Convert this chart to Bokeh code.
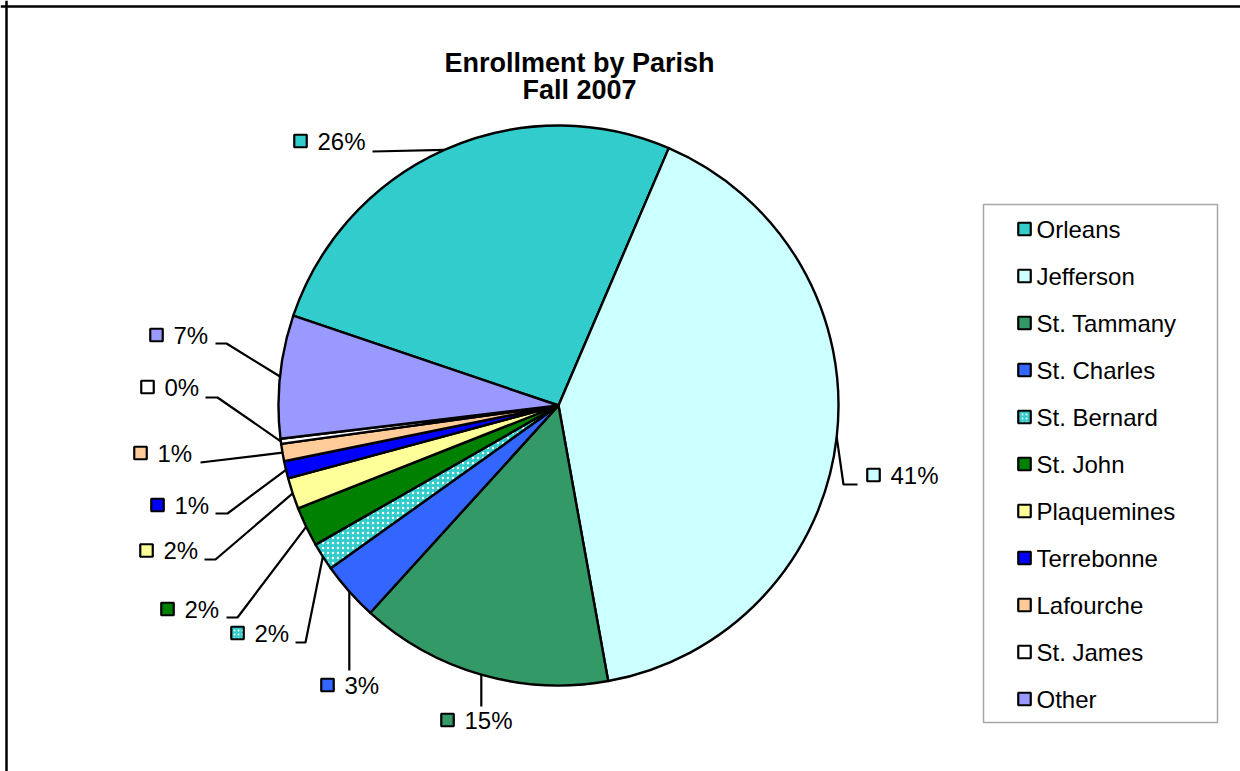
import numpy as np
from bokeh.plotting import figure
from bokeh.models import Range1d, Span, ColumnDataSource
from bokeh.core.properties import value
from bokeh.embed import file_html
from bokeh.resources import INLINE

# ---------------- data ----------------
parishes = ["Orleans", "Jefferson", "St. Tammany", "St. Charles", "St. Bernard",
            "St. John", "Plaquemines", "Terrebonne", "Lafourche", "St. James", "Other"]
enrollment_pct = [26.3, 40.8, 14.6, 3.4, 1.6, 2.3, 1.8, 1.0, 1.0, 0.3, 7.1]
colors = ["#33CCCC", "#CCFFFF", "#339966", "#3366FF", "#33CCCC", "#008000",
          "#FFFF99", "#0000FF", "#FFCC99", "#FFFFFF", "#9999FF"]
hatches = [" ", " ", " ", " ", "dot", " ", " ", " ", " ", " ", " "]
title_lines = ["Enrollment by Parish", "Fall 2007"]

# ---------------- layout (screen pixels) ----------------
PAGE_H = 771
W, H = 1240, 771
CX, CY, R = 558, 405, 280
FIRST_SLICE_DEG = 288.7
FONT = "Liberation Sans"

label_marker_xy = [(300, 140.5), (873, 474.5), (447, 719.5), (327, 684.5), (237, 632.5),
                   (167, 608.5), (146, 550), (157, 504.5), (140, 452.5), (147, 386.5), (156, 334.5)]
leader_end = [(372, 151), (857, 484), (None, 706), (None, 670), (295, 642), (226, 617),
              (204, 559), (215, 513), (200, 462), (205, 397), (215, 343)]
elbow_dx = [0, -14, 0, 0, 10, 11, 11, 12, 0, 12, 11]

LEG_BOX = (983, 1217, 204, 722)  # left, right, top, bottom
LEG_X, LEG_Y0, LEG_DY = 1024, 228.5, 47.0


def sy(y):
    return PAGE_H - y


p = figure(width=W, height=H, x_range=Range1d(0, W), y_range=Range1d(PAGE_H - H, PAGE_H),
           output_backend="svg", toolbar_location=None, min_border=0,
           x_axis_type=None, y_axis_type=None)
p.grid.visible = False
p.outline_line_color = None
p.background_fill_color = "white"
p.border_fill_color = "white"

# border (left + top)
p.add_layout(Span(location=6, dimension="height", line_color="black", line_width=2.5))
p.add_layout(Span(location=sy(6), dimension="width", line_color="black", line_width=2.5))

# ---------------- pie ----------------
vals = np.array(enrollment_pct, dtype=float)
frac = vals / vals.sum()
spans = frac * 2 * np.pi
c0 = np.deg2rad(FIRST_SLICE_DEG) + np.concatenate([[0.0], np.cumsum(spans)[:-1]])
c1 = c0 + spans
src = ColumnDataSource(dict(
    start=np.pi / 2 - c1, end=np.pi / 2 - c0, color=colors, hatch=hatches,
))
p.wedge(x=CX, y=sy(CY), radius=R, start_angle="start", end_angle="end", direction="anticlock",
        fill_color="color", line_color="black", line_width=2.4, line_join="round",
        hatch_pattern="hatch", hatch_color="white", hatch_scale=5, hatch_weight=2.5,
        source=src)

# ---------------- leader lines ----------------
cmid = (c0 + c1) / 2
xs, ys = [], []
for i in range(len(parishes)):
    ax = CX + R * np.sin(cmid[i])
    ay = CY - R * np.cos(cmid[i])
    ex, ey = leader_end[i]
    if ex is None:
        pts = [(ax, ay), (ax, ey)]
    else:
        pts = [(ax, ay), (ex + elbow_dx[i], ey), (ex, ey)]
    xs.append([q[0] for q in pts])
    ys.append([sy(q[1]) for q in pts])
p.multi_line(xs=xs, ys=ys, line_color="black", line_width=2.2)

# ---------------- data labels ----------------
pct_labels = [f"{int(round(f * 100))}%" for f in frac]
mx = [m[0] for m in label_marker_xy]
my = [sy(m[1]) for m in label_marker_xy]
p.rect(x=mx, y=my, width=12.5, height=12.5, fill_color=colors, line_color="black", line_width=2.2,
       hatch_pattern=hatches, hatch_color="white", hatch_scale=4, hatch_weight=1.5)
p.text(x=[m + 17 for m in mx], y=my, text=pct_labels,
       text_font=value(FONT), text_font_size="24px", text_color="black",
       text_align="left", text_baseline="middle")

# ---------------- title ----------------
p.text(x=[579, 579], y=[sy(62), sy(89)], text=title_lines, text_font=value(FONT),
       text_font_size="27px", text_font_style="bold", text_color="black",
       text_align="center", text_baseline="middle")

# ---------------- legend ----------------
l, r, t, b = LEG_BOX
p.quad(left=[l], right=[r], top=[sy(t)], bottom=[sy(b)], fill_color="white",
       line_color="#A6A6A6", line_width=1.5)
leg_y = [LEG_Y0 + i * LEG_DY for i in range(len(parishes))]
p.rect(x=[LEG_X] * len(parishes), y=[sy(v) for v in leg_y], width=12.5, height=12.5,
       fill_color=colors, line_color="black", line_width=2.2,
       hatch_pattern=hatches, hatch_color="white", hatch_scale=4, hatch_weight=1.5)
p.text(x=[LEG_X + 12] * len(parishes), y=[sy(v) for v in leg_y], text=parishes,
       text_font=value(FONT), text_font_size="24px", text_color="black",
       text_align="left", text_baseline="middle")

open("out.html", "w").write(file_html(p, INLINE))
